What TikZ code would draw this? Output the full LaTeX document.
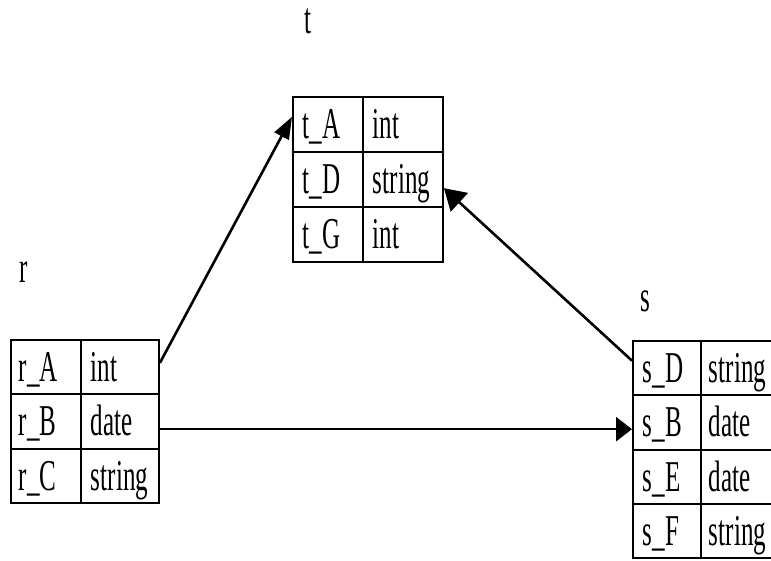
\documentclass[tikz,border=0pt]{standalone}
\usepackage{fontspec}
\setmainfont{Liberation Serif}[FakeStretch=0.57]
\usetikzlibrary{arrows.meta}
\begin{document}
\begin{tikzpicture}[x=1pt,y=-1pt,
  every node/.style={font=\fontsize{44}{48}\selectfont},
  cell/.style={draw, line width=1.9pt, anchor=north west, inner xsep=10pt,
    inner ysep=0pt, text height=29pt, text depth=0pt, align=left},
  title/.style={anchor=base west, inner sep=0pt},
  link/.style={line width=2.6pt}]
\useasboundingbox (0,0) rectangle (771,560);
\clip (0,0) rectangle (771,560);

% table t
\node[title] (tlabel) at (304,33) {t};
\node[cell, text width=50pt, minimum height=55pt] (tAn) at (292,96)  {t\_A};
\node[cell, text width=60pt, minimum height=55pt] (tAt) at (362,96)  {int};
\node[cell, text width=50pt, minimum height=55pt] (tDn) at (292,151) {t\_D};
\node[cell, text width=60pt, minimum height=55pt] (tDt) at (362,151) {string};
\node[cell, text width=50pt, minimum height=55pt] (tGn) at (292,206) {t\_G};
\node[cell, text width=60pt, minimum height=55pt] (tGt) at (362,206) {int};

% table r
\node[title] (rlabel) at (19,282) {r};
\node[cell, inner xsep=8pt, text width=54pt, minimum height=54.3pt] (rAn) at (10,339)   {r\_A};
\node[cell, text width=58pt, minimum height=54.3pt] (rAt) at (80,339)   {int};
\node[cell, inner xsep=8pt, text width=54pt, minimum height=54.3pt] (rBn) at (10,393.3) {r\_B};
\node[cell, text width=58pt, minimum height=54.3pt] (rBt) at (80,393.3) {date};
\node[cell, inner xsep=8pt, text width=54pt, minimum height=54.3pt] (rCn) at (10,447.6) {r\_C};
\node[cell, text width=58pt, minimum height=54.3pt] (rCt) at (80,447.6) {string};

% table s
\node[title] (slabel) at (640,311) {s};
\node[cell, text width=48pt, minimum height=54.3pt] (sDn) at (632,340)   {s\_D};
\node[cell, inner xsep=8pt, text width=64pt, minimum height=54.3pt] (sDt) at (700,340)   {string};
\node[cell, text width=48pt, minimum height=54.3pt] (sBn) at (632,394.3) {s\_B};
\node[cell, inner xsep=8pt, text width=64pt, minimum height=54.3pt] (sBt) at (700,394.3) {date};
\node[cell, text width=48pt, minimum height=54.3pt] (sEn) at (632,448.6) {s\_E};
\node[cell, inner xsep=8pt, text width=64pt, minimum height=54.3pt] (sEt) at (700,448.6) {date};
\node[cell, text width=48pt, minimum height=54.3pt] (sFn) at (632,502.9) {s\_F};
\node[cell, inner xsep=8pt, text width=64pt, minimum height=54.3pt] (sFt) at (700,502.9) {string};

% mappings between the tables
\draw[link, -{Triangle[length=22pt,width=16pt]}] (rAt.6) -- (tAn.168);
\draw[link, -{Triangle[length=16pt,width=24pt]}] (rBt.-11) -- (rBt.-11 -| sBn.west);
\draw[link, -{Triangle[length=21pt,width=25pt]}] (sDn.168) -- (tDt.-12);
\end{tikzpicture}
\end{document}
